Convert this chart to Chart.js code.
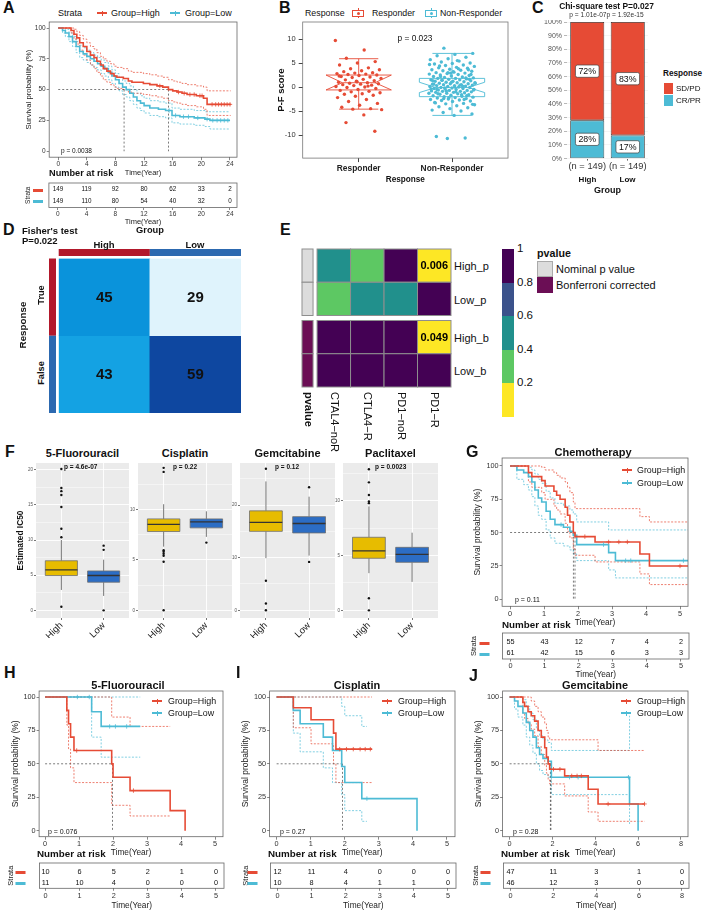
<!DOCTYPE html>
<html>
<head>
<meta charset="utf-8">
<title>Figure</title>
<script src="https://cdn.jsdelivr.net/npm/chart.js@4.4.1/dist/chart.umd.min.js"></script>
<style>
  html, body { margin: 0; padding: 0; background: #fff; }
  body { position: relative; width: 708px; height: 911px; overflow: hidden; font-family: "Liberation Sans", Arial, sans-serif; }
  canvas { position: absolute; }
  .t { position: absolute; white-space: nowrap; line-height: 1; color: #111; }
  .r { position: absolute; box-sizing: border-box; }
</style>
</head>
<body>
<script>
// ---------- A: overall survival, High vs Low ----------
const riskTimesA = [0, 4, 8, 12, 16, 20, 24];
const riskHighA = [149, 119, 92, 80, 62, 33, 2];
const riskLowA = [149, 110, 80, 54, 40, 32, 0];
const timeHighA = [0,1.8,2.2,2.6,3.0,3.5,4.0,4.5,5.0,5.4,5.9,6.3,6.8,7.3,7.8,8.2,9.1,9.8,10.3,11.9,12.8,13.8,14.6,15.4,16.0,16.6,17.3,18.0,19.3,20.3,20.8,24.1];
const survHighA = [100,98,95,92,88,85,81,78,76,73,70,67,65,63,61,60,59,57,56,55,54,53,52,50,49,48,47,46,45,43,38,38];
const upHighA   = [100,100,99,97,94,91,88,85,83,80,77,75,73,71,69,68,67,65,64,63,62,61,60,58,57,56,55,54,53,52,49,49];
const loHighA   = [100,96,91,87,82,78,74,70,67,64,61,58,56,54,52,51,50,48,47,46,45,44,43,41,40,39,38,37,36,34,29,29];
const censHighA = [14.2,16.8,17.6,18.4,19.0,19.8,20.1,21.5,22.0,22.4,22.8,23.2,23.6,24.0];
const timeLowA = [0,0.6,1.0,1.5,2.0,2.5,3.0,3.5,4.0,4.5,5.0,5.5,6.0,6.5,7.0,7.5,8.0,8.5,9.0,9.5,10.0,10.5,11.0,11.5,12.0,12.8,14.0,15.0,15.9,17.0,19.0,20.5,21.2,24.0];
const survLowA = [100,98,96,93,89,85,81,79,77,75,73,71,69,67,64,61,58,55,52,50,47,44,41,39,37,35,34,33,29,28,27,26,25,25];
const upLowA   = [100,100,99,96,93,89,86,84,82,80,78,76,74,72,69,66,63,60,57,55,53,50,47,45,43,41,40,39,35,34,33,32,32,32];
const loLowA   = [100,96,93,89,85,80,76,74,72,70,68,66,63,61,58,55,52,49,46,44,41,38,35,33,31,29,28,27,23,22,21,20,18,18];
const censLowA = [15.5,16.4,17.5,18.2,19.5,20.8,21.6,22.2,22.7,23.2,23.7];
const medianA = [15.4, 9.2];

// ---------- B: P-F score by response ----------
const respNames = ['Responder', 'Non-Responder'];
const respScores = [9.7,7.7,6.0,5.3,5.0,4.6,4.0,3.8,3.6,3.4,3.2,3.0,2.9,2.8,2.7,2.6,2.5,2.4,2.2,2.1,2.0,1.8,1.6,1.5,1.3,1.2,1.0,0.9,0.8,0.7,0.6,0.5,0.4,0.3,0.1,0.0,-0.1,-0.3,-0.5,-0.7,-0.9,-1.0,-1.2,-1.4,-1.5,-1.7,-1.9,-2.2,-2.6,-3.0,-3.4,-3.8,-4.2,-4.5,-4.6,-4.7,-5.8,-7.4,-9.2,1.1,2.3,0.2];
const nonRespScores = [8.1,7.0,6.8,6.5,6.2,5.9,5.7,5.4,5.2,5.0,4.9,4.8,4.6,4.5,4.3,4.1,4.0,3.9,3.7,3.6,3.5,3.4,3.3,3.1,3.0,2.9,2.8,2.7,2.6,2.5,2.4,2.3,2.2,2.1,2.0,1.9,1.8,1.8,1.7,1.6,1.5,1.5,1.4,1.3,1.2,1.2,1.1,1.0,0.9,0.9,0.8,0.7,0.7,0.6,0.5,0.5,0.4,0.3,0.3,0.2,0.1,0.1,0.0,-0.1,-0.1,-0.2,-0.3,-0.3,-0.4,-0.5,-0.5,-0.6,-0.7,-0.7,-0.8,-0.9,-0.9,-1.0,-1.1,-1.1,-1.2,-1.3,-1.3,-1.4,-1.5,-1.6,-1.7,-1.8,-1.9,-2.0,-2.1,-2.2,-2.3,-2.4,-2.5,-2.6,-2.7,-2.8,-2.9,-3.0,-3.2,-3.4,-3.5,-3.7,-3.9,-4.1,-4.3,-4.5,-4.8,-5.0,-5.3,-5.6,-5.9,-10.3,-10.6,-10.7,4.7,3.8,2.2,1.6,1.0,0.6,0.2,-0.2,-0.6,-1.0,-1.4,-1.8,-2.2,-0.4,0.4,1.4,2.6,3.2,-3.3,-2.6,-0.8,0.8,5.5,4.4,3.6,2.9,1.3,-1.6,-2.4,-3.6,0.0,-0.5,1.9,3.0];
const pfLow = [-4.6, -5.9];
const pfQ1 = [-0.6, -2.0];
const pfMed = [0.9, -0.1];
const pfQ3 = [2.5, 1.8];
const pfHigh = [5.9, 7.0];
const pfNotchLo = [-0.6, -1.15];
const pfNotchHi = [2.5, 1.0];

// ---------- C: response rate by group ----------
const chiGroups = ['High', 'Low'];
const chiN = [149, 149];
const crprPct = [28, 17];
const sdpdPct = [72, 83];

// ---------- D: Fisher table ----------
const fisherGroups = ['High', 'Low'];
const fisherTrue = [45, 29];
const fisherFalse = [43, 59];

// ---------- E: SubMap p values ----------
const subRows = ['High_p', 'Low_p', 'High_b', 'Low_b'];
const subCols = ['CTAL4\u2212noR', 'CTLA4\u2212R', 'PD1\u2212noR', 'PD1\u2212R'];
const subP = [
  [0.5, 0.3, 0.9, 0.006],
  [0.3, 0.5, 0.55, 0.9],
  [1, 1, 1, 0.049],
  [1, 1, 1, 1]
];

// ---------- F: estimated IC50 ----------
const drugs = ['5-Fluorouracil', 'Cisplatin', 'Gemcitabine', 'Paclitaxel'];
const drugP = ['p = 4.6e-07', 'p = 0.22', 'p = 0.12', 'p = 0.0023'];
const icGroups = ['High', 'Low'];
// [lower whisker, q1, median, q3, upper whisker]
const icHigh = [[2.9,4.95,5.76,7.05,10.0],[6.3,7.8,8.5,9.05,10.5],[9.9,15.0,16.7,18.9,24.5],[3.4,4.76,5.43,6.68,9.5]];
const icLow = [[2.05,4.0,4.95,5.6,7.2],[7.27,8.16,8.75,9.05,9.8],[10.4,14.7,16.5,17.8,21.6],[2.6,4.39,5.12,5.76,7.1]];
const icOutHigh = [[20.1,17.4,16.95,16.4,14.7,11.6,10.4,0.5],[14.1,13.7,5.95,5.8,5.6,5.4,4.8,0],[26.9,5.6,1.3,0],[12.9,11.7,10.55,9.95,9.8,1.1,0]];
const icOutLow = [[9.2,8.6,0],[6.7],[23.4,9.2],[]];

// ---------- G: chemotherapy ----------
const riskTimes5 = [0, 1, 2, 3, 4, 5];
const riskHighG = [55, 43, 12, 7, 4, 2];
const riskLowG = [61, 42, 15, 6, 3, 3];
const timeHighG = [0,0.54,0.64,0.93,1.03,1.29,1.37,1.47,1.62,1.69,1.76,1.86,1.91,2.5,3.82,4.1,5.25];
const survHighG = [100,95,92,89,85,81,78,75,69,63,58,50,47,43,34,25,25];
const upHighG   = [100,100,100,99,97,95,93,91,88,84,80,73,68,68,62,58,58];
const loHighG   = [100,88,84,80,75,70,67,64,57,51,46,38,33,28,19,11,11];
const censHighG = [2.2, 2.9, 3.2, 3.45, 5.0];
const timeLowG = [0,0.2,0.4,0.54,0.64,0.73,0.83,0.93,1.06,1.18,1.32,1.57,1.76,1.86,1.96,2.9,3.1,5.25];
const survLowG = [100,97,95,92,88,82,76,73,66,60,56,54,51,48,41,35,29,29];
const upLowG   = [100,100,100,99,97,94,90,87,81,76,72,70,67,64,58,52,52,52];
const loLowG   = [100,90,86,82,77,70,63,60,52,46,42,40,37,34,29,22,16,16];
const censLowG = [1.5, 2.75, 3.4, 3.55, 5.1];
const medianG = [1.91, 1.86];

// ---------- H: 5-Fluorouracil ----------
const riskHighH = [10, 6, 5, 2, 1, 0];
const riskLowH = [11, 10, 4, 0, 0, 0];
const timeHighH = [0,0.64,0.69,0.75,0.85,1.96,2.0,2.5,3.68,4.12];
const survHighH = [100,90,80,70,60,50,40,30,15,0];
const upHighH   = [100,100,100,100,100,85,85,78,78,null];
const loHighH   = [100,79,61,47,36,19,19,11,11,null];
const censHighH = [0.93, 2.6];
const timeLowH = [0,1.37,1.65,2.8];
const survLowH = [100,89,78,78];
const upLowH   = [100,100,100,100];
const loLowH   = [100,70,55,55];
const censLowH = [0.95, 1.3, 1.9, 2.07, 2.4];
const medianH = [1.98, null];

// ---------- I: Cisplatin ----------
const riskHighI = [12, 11, 4, 0, 0, 0];
const riskLowI = [10, 8, 4, 1, 1, 0];
const timeHighI = [0,0.49,1.01,1.67,1.74,2.8];
const survHighI = [100,92,83,73,61,61];
const upHighI   = [100,100,100,100,100,100];
const loHighI   = [100,77,65,50,36,36];
const censHighI = [1.85, 2.05, 2.25, 2.45, 2.6, 2.75];
const timeLowI = [0,0.49,0.69,1.37,1.64,1.91,2.0,2.5,2.65,4.12];
const survLowI = [100,90,80,70,60,48,36,24,24,0];
const upLowI   = [100,100,100,100,100,93,86,78,78,null];
const loLowI   = [100,73,59,47,36,27,15,7,7,null];
const censLowI = [2.65];
const medianI = [null, 1.93];

// ---------- J: Gemcitabine ----------
const riskTimesJ = [0, 2, 4, 6, 8];
const riskHighJ = [47, 11, 3, 1, 0];
const riskLowJ = [46, 12, 3, 0, 0];
const timeHighJ = [0,0.62,0.7,0.86,1.01,1.17,1.33,1.48,1.64,1.72,1.8,1.87,2.57,3.67,4.13,6.3];
const survHighJ = [100,96,93,89,86,82,75,70,62,55,50,46,41,31,20,20];
const upHighJ   = [100,100,100,100,97,93,89,85,80,75,70,68,68,68,60,60];
const loHighJ   = [100,88,84,80,76,71,63,57,49,43,38,35,26,14,7,7];
const censHighJ = [2.05, 2.35, 2.9, 3.15, 3.35, 4.6, 6.3];
const timeLowJ = [0,0.23,0.39,0.62,0.78,0.94,1.09,1.25,1.4,1.56,1.79,1.95,5.6,6.0];
const survLowJ = [100,97,93,88,81,75,70,62,57,54,52,40,20,0];
const upLowJ   = [100,100,100,98,93,88,83,76,71,68,66,60,86,null];
const loLowJ   = [100,91,85,79,70,64,58,50,45,42,40,27,5,null];
const censLowJ = [2.8, 3.2, 5.55];
const medianJ = [1.9, 1.93];

// ================= drawing =================
const FONT = '"Liberation Sans", Arial, Helvetica, sans-serif';
const RED = '#E64B35', BLUE = '#4DBBD5';
const ANNO_RED = '#B2182B', ANNO_BLUE = '#2C69B0';
const NOMINAL = '#DCDCDC', BONF = '#6B0E55';
const viridis5 = ['#FDE725', '#5DC863', '#21908C', '#3B528B', '#440154'];
const pColor = v => viridis5[Math.min(4, Math.floor(v / 0.2))];

Chart.defaults.font.family = FONT;
Chart.defaults.color = '#333';
Chart.defaults.animation = false;
Chart.defaults.responsive = false;
Chart.defaults.maintainAspectRatio = false;
Chart.defaults.events = [];
Chart.defaults.plugins.legend.display = false;
Chart.defaults.plugins.tooltip.enabled = false;

function label(s, x, y, o = {}) {
  const d = document.createElement('div');
  d.className = 't';
  d.textContent = s;
  d.style.left = x + 'px';
  d.style.top = y + 'px';
  d.style.fontSize = (o.size || 8) + 'px';
  if (o.bold) d.style.fontWeight = 'bold';
  if (o.color) d.style.color = o.color;
  const ax = o.align === 'c' ? '-50%' : o.align === 'r' ? '-100%' : '0';
  let tr = `translate(${ax},-50%)`;
  if (o.rot) tr = `translate(-50%,-50%) rotate(${o.rot}deg)`;
  if (o.down) { d.style.transformOrigin = '0 0'; tr = 'rotate(90deg) translate(0,-50%)'; }
  d.style.transform = tr;
  document.body.appendChild(d);
}
function box(x, y, w, h, col, border) {
  const d = document.createElement('div');
  d.className = 'r';
  Object.assign(d.style, {left: x + 'px', top: y + 'px', width: w + 'px', height: h + 'px', background: col || 'transparent'});
  if (border) d.style.border = border;
  document.body.appendChild(d);
  return d;
}
function swatch(x, y, col, w = 10) {
  box(x, y - 1, w, 2, col);
  box(x + w / 2 - 0.5, y - 2.5, 1, 5, col);
}
function boxIcon(x, y, col) {
  box(x + 5.5, y - 5, 1, 10, col);
  box(x, y - 3.5, 12, 7, '#fff', '1px solid ' + col);
  const dot = box(x + 4.5, y - 1.5, 3, 3, col);
  dot.style.borderRadius = '50%';
}
function canvasAt(x, y, w, h) {
  const c = document.createElement('canvas');
  c.width = Math.round(w); c.height = Math.round(h);
  c.style.left = x + 'px'; c.style.top = y + 'px';
  document.body.appendChild(c);
  return c;
}
// box = plot area [l, t, r, b] in page px, m = [left, top, right, bottom] room around it
function makeChart(bx, m, cfg) {
  const [l, t, r, b] = bx, [ml, mt, mr, mb] = m;
  const cv = canvasAt(l - ml, t - mt, r - l + ml + mr, b - t + mt + mb);
  const pad = {left: 0, top: mt, right: mr, bottom: 0};
  const scales = cfg.options.scales || {};
  for (const k in scales) {
    const s = scales[k];
    const horiz = k.startsWith('x');
    if (s.display === false) { if (horiz) pad.bottom = mb; else pad.left = ml; continue; }
    s.afterFit = a => {
      if (horiz) a.height = mb; else a.width = ml;
      a.paddingLeft = a.paddingRight = a.paddingTop = a.paddingBottom = 0;
    };
  }
  cfg.options.layout = {padding: pad, autoPadding: false};
  return new Chart(cv, cfg);
}

// ---------- plugins ----------
const frame = {
  id: 'frame',
  beforeDraw(c, _a, o) {
    if (!o || !o.bg) return;
    const a = c.chartArea;
    c.ctx.save(); c.ctx.fillStyle = o.bg; c.ctx.fillRect(a.left, a.top, a.width, a.height); c.ctx.restore();
  },
  afterDatasetsDraw(c, _a, o) {
    if (!o || !o.stroke) return;
    const a = c.chartArea, x = c.ctx;
    x.save(); x.strokeStyle = o.stroke; x.lineWidth = o.width || 0.8;
    x.strokeRect(a.left, a.top, a.width, a.height); x.restore();
  }
};
const countText = {
  id: 'countText',
  afterDatasetsDraw(c, _a, o) {
    if (!o || !o.size) return;
    const x = c.ctx;
    x.save();
    x.font = `${o.bold ? 'bold ' : ''}${o.size}px ${FONT}`;
    x.fillStyle = '#111'; x.textAlign = 'center'; x.textBaseline = 'middle';
    c.data.datasets.forEach((d, i) => {
      if (!d.counts) return;
      c.getDatasetMeta(i).data.forEach((el, j) => {
        const p = el.getCenterPoint();
        x.fillText(String(d.counts[j]), p.x, p.y + 0.5);
      });
    });
    x.restore();
  }
};
// box-and-whisker marks; the items live on chart.data.boxItems (plain objects)
const boxes = {
  id: 'boxes',
  beforeDatasetsDraw(c) {
    const items = c.data.boxItems;
    if (!items) return;
    const {ctx, scales: {x, y}} = c;
    const Y = v => y.getPixelForValue(v);
    items.forEach(b => {
      const cx = x.getPixelForValue(b.x), hw = x.getPixelForValue(b.x + b.w / 2) - cx;
      const L = cx - hw, R = cx + hw;
      ctx.save();
      ctx.lineWidth = b.lw || 0.8;
      ctx.beginPath();
      ctx.moveTo(cx, Y(b.q3)); ctx.lineTo(cx, Y(b.hi));
      ctx.moveTo(cx, Y(b.q1)); ctx.lineTo(cx, Y(b.lo));
      if (b.cap) {
        const cw = hw * b.cap;
        ctx.moveTo(cx - cw, Y(b.hi)); ctx.lineTo(cx + cw, Y(b.hi));
        ctx.moveTo(cx - cw, Y(b.lo)); ctx.lineTo(cx + cw, Y(b.lo));
      }
      ctx.strokeStyle = b.whisker || b.stroke; ctx.stroke();
      ctx.beginPath();
      if (b.notch) {
        const ni = hw * 0.5;
        ctx.moveTo(L, Y(b.q3)); ctx.lineTo(L, Y(b.notch[1])); ctx.lineTo(L + ni, Y(b.med));
        ctx.lineTo(L, Y(b.notch[0])); ctx.lineTo(L, Y(b.q1)); ctx.lineTo(R, Y(b.q1));
        ctx.lineTo(R, Y(b.notch[0])); ctx.lineTo(R - ni, Y(b.med)); ctx.lineTo(R, Y(b.notch[1]));
        ctx.lineTo(R, Y(b.q3)); ctx.closePath();
      } else {
        ctx.rect(L, Y(b.q3), 2 * hw, Y(b.q1) - Y(b.q3));
      }
      if (b.bg) { ctx.fillStyle = b.bg; ctx.fill(); }
      ctx.strokeStyle = b.stroke; ctx.stroke();
      const mi = b.notch ? hw * 0.5 : 0;
      ctx.beginPath(); ctx.moveTo(L + mi, Y(b.med)); ctx.lineTo(R - mi, Y(b.med));
      ctx.lineWidth = b.mlw || ctx.lineWidth; ctx.strokeStyle = b.mcol || b.stroke; ctx.stroke();
      ctx.restore();
    });
  }
};
const pctLabels = {
  id: 'pctLabels',
  afterDatasetsDraw(c, _a, o) {
    if (!o || !o.size) return;
    const x = c.ctx;
    x.save();
    x.font = `${o.size}px ${FONT}`; x.textAlign = 'center'; x.textBaseline = 'middle';
    c.data.datasets.forEach((d, i) => c.getDatasetMeta(i).data.forEach((el, j) => {
      const p = el.getCenterPoint(), s = d.data[j] + '%';
      const w = x.measureText(s).width + 6, h = o.size + 3.5;
      x.fillStyle = '#fff'; x.strokeStyle = '#444'; x.lineWidth = 0.7;
      x.beginPath(); x.roundRect(p.x - w / 2, p.y - h / 2, w, h, 2); x.fill(); x.stroke();
      x.fillStyle = '#111'; x.fillText(s, p.x, p.y + 0.5);
    }));
    x.restore();
  }
};
const fisherAnno = {
  id: 'fisherAnno',
  afterDatasetsDraw(c, _a, o) {
    if (!o || !o.on) return;
    const {ctx, chartArea: a, scales: {x, y}} = c;
    const half = (x.getPixelForValue(1) - x.getPixelForValue(0)) / 2;
    ctx.save();
    fisherGroups.forEach((g, i) => {
      ctx.fillStyle = i ? ANNO_BLUE : ANNO_RED;
      const cx = x.getPixelForValue(i);
      ctx.fillRect(cx - half, a.top - 9.5, 2 * half, 7);
    });
    [[1, 2, ANNO_RED], [0, 1, ANNO_BLUE]].forEach(([v0, v1, col]) => {
      const y0 = y.getPixelForValue(v1), y1 = y.getPixelForValue(v0);
      ctx.fillStyle = col; ctx.fillRect(a.left - 9.7, y0, 7, y1 - y0);
    });
    ctx.restore();
  }
};
const subHeat = {
  id: 'subHeat',
  afterDatasetsDraw(c, _a, o) {
    if (!o || !o.on) return;
    const {ctx, scales: {x, y}} = c;
    const rowTop = [0, 1, 2.15, 3.15];
    const cell = (x0, x1, r, col) => {
      const X0 = x.getPixelForValue(x0), X1 = x.getPixelForValue(x1);
      const Y0 = y.getPixelForValue(rowTop[r]), Y1 = y.getPixelForValue(rowTop[r] + 1);
      ctx.fillStyle = col; ctx.fillRect(X0, Y0, X1 - X0, Y1 - Y0);
      ctx.strokeStyle = '#8F8F8F'; ctx.lineWidth = 1; ctx.strokeRect(X0, Y0, X1 - X0, Y1 - Y0);
      return [(X0 + X1) / 2, (Y0 + Y1) / 2];
    };
    ctx.save();
    subP.forEach((row, r) => {
      cell(0, 0.33, r, r < 2 ? NOMINAL : BONF);
      row.forEach((v, k) => {
        const [cx, cy] = cell(0.45 + k, 1.45 + k, r, pColor(v));
        if (v < 0.05) {
          ctx.fillStyle = '#000'; ctx.font = `bold 11px ${FONT}`;
          ctx.textAlign = 'center'; ctx.textBaseline = 'middle';
          ctx.fillText(v.toFixed(3), cx, cy + 0.5);
        }
      });
    });
    ctx.restore();
  }
};
Chart.register(frame, countText, boxes, pctLabels, fisherAnno, subHeat);

// ---------- Kaplan-Meier panels ----------
function survAt(t, s, time) {
  let v = s[0];
  for (let j = 0; j < t.length; j++) if (t[j] <= time) v = s[j];
  return v;
}
function kmPanel(P) {
  const cols = [RED, BLUE];
  const ds = [];
  P.curves.forEach(([t, s, up, lo, cens], i) => {
    const pts = arr => t.map((tt, j) => ({x: tt, y: arr[j]}));
    const thin = {borderColor: cols[i], borderWidth: 0.7, borderDash: [2, 1.5], stepped: true, pointRadius: 0, order: 3};
    ds.push({...thin, data: pts(up)});
    ds.push({...thin, data: pts(lo)});
    ds.push({data: pts(s), borderColor: cols[i], borderWidth: 1.6, stepped: true, pointRadius: 0, order: 1});
    ds.push({type: 'scatter', data: cens.map(cv => ({x: cv, y: survAt(t, s, cv)})), pointStyle: 'cross',
             pointRadius: 2.2, borderColor: cols[i], borderWidth: 0.8, order: 0});
  });
  const meds = P.med.filter(v => v != null);
  const mline = {borderColor: '#444', borderWidth: 0.7, borderDash: [2, 2], pointRadius: 0, order: 2};
  ds.push({...mline, data: [{x: 0, y: 50}, {x: Math.max(...meds), y: 50}]});
  meds.forEach(v => ds.push({...mline, data: [{x: v, y: 50}, {x: v, y: 0}]}));

  const xAxis = (pad, tl) => ({
    type: 'linear', min: P.x[0], max: P.x[1],
    ticks: {stepSize: P.x[2], includeBounds: false, autoSkip: false, maxRotation: 0, padding: pad, font: {size: P.f.tick}, color: '#333'},
    grid: {drawOnChartArea: false, tickLength: tl, tickColor: '#555', lineWidth: 0.7},
    border: {display: false},
    title: {display: true, text: 'Time(Year)', padding: 0, font: {size: P.f.xt}, color: '#222'}
  });
  makeChart(P.box, P.m, {
    type: 'line',
    data: {datasets: ds},
    options: {
      plugins: {frame: {stroke: '#666', width: 0.8}},
      scales: {
        x: xAxis(0, 3),
        y: {type: 'linear', min: P.y[0], max: P.y[1],
            ticks: {stepSize: 25, includeBounds: false, autoSkip: false, padding: 1, font: {size: P.f.tick}, color: '#333'},
            grid: {drawOnChartArea: false, tickLength: 2.5, tickColor: '#555', lineWidth: 0.7},
            border: {display: false},
            title: {display: true, text: 'Survival probability (%)', padding: 0, font: {size: P.f.yt}, color: '#222'}}
      }
    }
  });
  const rds = P.risk.map((row, i) => ({type: 'scatter', data: row.map((n, j) => ({x: P.rt[j], y: 2 - i})), counts: row, pointRadius: 0}));
  makeChart(P.rbox, P.rm, {
    type: 'scatter',
    data: {datasets: rds},
    options: {
      plugins: {frame: {stroke: '#666', width: 0.8}, countText: {size: P.f.risk}},
      scales: {
        x: xAxis(P.rtp, 2.5),
        y: {type: 'linear', min: P.ry[0], max: P.ry[1],
            ticks: {stepSize: 1, includeBounds: false, autoSkip: false, padding: P.rpad, font: {size: 10},
                    callback: v => (v === 1 || v === 2) ? '\u25AC' : '',
                    color: c => (c.tick && c.tick.value === 2) ? RED : BLUE},
            grid: {display: false, drawTicks: false}, border: {display: false},
            title: {display: true, text: 'Strata', padding: 0, font: {size: P.f.st}, color: '#222'}}
      }
    }
  });
}

const fA = {tick: 6.5, xt: 7.5, yt: 7.8, risk: 6.3, st: 6.5};
const fG = {tick: 7.3, xt: 8.3, yt: 8.5, risk: 7.3, st: 7.5};
kmPanel({box: [49, 22, 237, 157], m: [25.2, 3, 3, 19.8], x: [-1.26, 24.98, 4], y: [-4.9, 104.9], f: fA,
  curves: [[timeHighA, survHighA, upHighA, loHighA, censHighA], [timeLowA, survLowA, upLowA, loLowA, censLowA]], med: medianA,
  rbox: [49, 183, 237, 207], rm: [24.9, 1, 3, 18.5], ry: [0.36, 2.55], rpad: 6, rtp: 0, rt: riskTimesA, risk: [riskHighA, riskLowA]});
kmPanel({box: [502, 458, 688, 606], m: [29.1, 3, 3, 21.7], x: [-0.235, 5.235, 1], y: [-5.3, 106], f: fG,
  curves: [[timeHighG, survHighG, upHighG, loHighG, censHighG], [timeLowG, survLowG, upLowG, loLowG, censLowG]], med: medianG,
  rbox: [502, 633, 688, 659], rm: [33.5, 1, 3, 21], ry: [0.45, 2.8], rpad: 13, rtp: 0.3, rt: riskTimes5, risk: [riskHighG, riskLowG]});
kmPanel({box: [39, 691, 223, 837], m: [28.1, 3, 3, 21.3], x: [-0.176, 5.235, 1], y: [-4.5, 104.5], f: fG,
  curves: [[timeHighH, survHighH, upHighH, loHighH, censHighH], [timeLowH, survLowH, upLowH, loLowH, censLowH]], med: medianH,
  rbox: [39, 863, 223, 888], rm: [33.5, 1, 3, 22.7], ry: [0.45, 2.75], rpad: 14, rtp: 1.3, rt: riskTimes5, risk: [riskHighH, riskLowH]});
kmPanel({box: [270, 691, 455, 837], m: [28.6, 3, 3, 21.3], x: [-0.206, 5.235, 1], y: [-4.5, 104.5], f: fG,
  curves: [[timeHighI, survHighI, upHighI, loHighI, censHighI], [timeLowI, survLowI, upLowI, loLowI, censLowI]], med: medianI,
  rbox: [270, 863, 455, 888], rm: [29.5, 1, 3, 22.7], ry: [0.45, 2.75], rpad: 13, rtp: 1.3, rt: riskTimes5, risk: [riskHighI, riskLowI]});
kmPanel({box: [503, 691, 688, 837], m: [28.6, 3, 3, 21.3], x: [-0.327, 8.33, 2], y: [-4.5, 104.5], f: fG,
  curves: [[timeHighJ, survHighJ, upHighJ, loHighJ, censHighJ], [timeLowJ, survLowJ, upLowJ, loLowJ, censLowJ]], med: medianJ,
  rbox: [503, 863, 688, 888], rm: [32.5, 1, 3, 22.7], ry: [0.45, 2.75], rpad: 13, rtp: 1.3, rt: riskTimesJ, risk: [riskHighJ, riskLowJ]});

// ---------- B ----------
const jitter = i => (((i * 0.6180339887) % 1) - 0.5) * 0.5;
makeChart([303, 22, 508, 158], [26.7, 2, 2, 26.9], {
  type: 'scatter',
  data: {
    datasets: [
      {data: respScores.map((v, i) => ({x: 1 + jitter(i), y: v})), backgroundColor: RED, pointRadius: 1.7, borderWidth: 0},
      {data: nonRespScores.map((v, i) => ({x: 2 + jitter(i + 7), y: v})), backgroundColor: BLUE, pointRadius: 1.7, borderWidth: 0}
    ],
    boxItems: respNames.map((n, i) => ({x: i + 1, w: 0.7, lo: pfLow[i], q1: pfQ1[i], med: pfMed[i], q3: pfQ3[i], hi: pfHigh[i],
      notch: [pfNotchLo[i], pfNotchHi[i]], stroke: i ? BLUE : RED, cap: 0.6, lw: 0.9}))
  },
  options: {
    plugins: {frame: {stroke: '#777', width: 0.8}},
    scales: {
      x: {type: 'linear', min: 0.4, max: 2.6,
          ticks: {stepSize: 1, includeBounds: false, autoSkip: false, maxRotation: 0, callback: v => respNames[v - 1],
                  font: {size: 8.4, weight: 'bold'}, color: '#222', padding: 2},
          grid: {drawOnChartArea: false, tickLength: 4, tickColor: '#444'}, border: {display: false},
          title: {display: true, text: 'Response', font: {size: 8.2, weight: 'bold'}, padding: 0, color: '#111'}},
      y: {type: 'linear', min: -14.79, max: 13.54,
          ticks: {stepSize: 5, includeBounds: false, autoSkip: false, font: {size: 7.5}, color: '#333', padding: 3},
          grid: {drawOnChartArea: false, tickLength: 4, tickColor: '#444'}, border: {display: false},
          title: {display: true, text: 'P-F score', font: {size: 9.5, weight: 'bold'}, padding: 0, color: '#111'}}
    }
  }
});

// ---------- C ----------
makeChart([567, 22, 648, 159], [27, 2, 2, 37.4], {
  type: 'bar',
  data: {labels: chiGroups, datasets: [
    {data: crprPct, backgroundColor: BLUE, borderColor: '#222', borderWidth: 0.8, borderSkipped: false, barPercentage: 0.84, categoryPercentage: 1},
    {data: sdpdPct, backgroundColor: RED, borderColor: '#222', borderWidth: 0.8, borderSkipped: false, barPercentage: 0.84, categoryPercentage: 1}
  ]},
  options: {
    plugins: {pctLabels: {size: 8.8}},
    scales: {
      x: {stacked: true,
          ticks: {callback: (v, i) => `(n = ${chiN[i]})`, font: {size: 9.3}, padding: 0, color: '#333',
                  minRotation: 0, maxRotation: 0, autoSkip: false},
          grid: {drawOnChartArea: false, offset: false, tickLength: 2, tickColor: '#666'}, border: {display: false},
          title: {display: true, text: 'Group', font: {size: 9, weight: 'bold'}, padding: 0, color: '#111'}},
      y: {stacked: true, min: 0, max: 100,
          ticks: {stepSize: 10, callback: v => v + '%', font: {size: 7}, color: '#555', padding: 2},
          grid: {color: '#EDEDED', lineWidth: 0.6, tickLength: 3, tickColor: '#888'}, border: {display: false}}
    }
  }
});

// ---------- D ----------
makeChart([58.7, 258.5, 241, 413], [9.7, 9.5, 0, 0], {
  type: 'bar',
  data: {labels: fisherGroups, datasets: [
    {data: fisherTrue.map(() => [1, 2]), counts: fisherTrue, backgroundColor: ['#0A93DB', '#DFF3FC'],
     grouped: false, barPercentage: 1, categoryPercentage: 1, borderWidth: 0},
    {data: fisherFalse.map(() => [0, 1]), counts: fisherFalse, backgroundColor: ['#14A2E3', '#0E47A0'],
     grouped: false, barPercentage: 1, categoryPercentage: 1, borderWidth: 0}
  ]},
  options: {
    plugins: {fisherAnno: {on: true}, countText: {size: 15, bold: true}},
    scales: {x: {display: false}, y: {display: false, min: 0, max: 2}}
  }
});

// ---------- E ----------
makeChart([302, 249, 451, 387], [1, 1, 1, 1], {
  type: 'scatter',
  data: {datasets: []},
  options: {
    plugins: {subHeat: {on: true}},
    scales: {x: {display: false, type: 'linear', min: 0, max: 4.45},
             y: {display: false, type: 'linear', min: 0, max: 4.15, reverse: true}}
  }
});

// ---------- F ----------
const icLeft = [36, 138, 240, 343], icRight = [129, 232, 335, 438];
const icAxis = [[-1.09, 20.95, 5], [-0.76, 14.58, 5], [-1.47, 28.0, 10], [-0.7, 13.47, 5]];
drugs.forEach((name, k) => {
  const step = icAxis[k][2];
  const major = v => Math.abs(v / step - Math.round(v / step)) < 1e-6;
  const stats = (s, x, bg) => ({x, w: 0.76, lo: s[0], q1: s[1], med: s[2], q3: s[3], hi: s[4], bg,
                                stroke: '#6E6E6E', whisker: '#555', mcol: '#333', mlw: 1.3, lw: 0.8});
  makeChart([icLeft[k], 463, icRight[k], 618], [k === 0 ? 20 : 8, 2, 1, 20], {
    type: 'scatter',
    data: {
      datasets: [
        {data: icOutHigh[k].map(v => ({x: 1, y: v})), backgroundColor: '#111', pointRadius: 1.2, borderWidth: 0},
        {data: icOutLow[k].map(v => ({x: 2, y: v})), backgroundColor: '#111', pointRadius: 1.2, borderWidth: 0}
      ],
      boxItems: [stats(icHigh[k], 1, '#E7BC00'), stats(icLow[k], 2, '#2C6DC4')]
    },
    options: {
      plugins: {frame: {bg: '#EBEBEB'}},
      scales: {
        x: {type: 'linear', min: 0.4, max: 2.6,
            ticks: {stepSize: 1, includeBounds: false, autoSkip: false, minRotation: 45, maxRotation: 45,
                    callback: v => icGroups[v - 1], font: {size: 9.5}, color: '#222', padding: 0},
            grid: {color: '#fff', lineWidth: 0.9, tickLength: 2, tickColor: '#666'}, border: {display: false}},
        y: {type: 'linear', min: icAxis[k][0], max: icAxis[k][1],
            ticks: {stepSize: step / 2, includeBounds: false, autoSkip: false, font: {size: 4.5}, color: '#555', padding: 1,
                    callback: v => major(v) ? String(v) : ''},
            grid: {color: '#fff', lineWidth: c => (c.tick && major(c.tick.value)) ? 0.9 : 0.45, tickLength: 2,
                   tickColor: c => (c.tick && major(c.tick.value)) ? '#666' : 'rgba(0,0,0,0)'},
            border: {display: false},
            title: {display: k === 0, text: 'Estimated IC50', font: {size: 8.4, weight: 'bold'}, padding: 0, color: '#111'}}
      }
    }
  });
});

// ---------- text and legends ----------
const big = {size: 16, bold: true};
label('A', 3, 8, big); label('B', 279, 8, big); label('C', 532, 8, big);
label('D', 3, 230, big); label('E', 280, 230, big); label('F', 5, 452, big);
label('G', 466, 452, big); label('H', 4, 673, big); label('I', 236, 673, big); label('J', 469, 676, big);

// A
label('Strata', 58, 13, {size: 9});
swatch(97, 13, RED); label('Group=High', 111, 13, {size: 9});
swatch(170, 13, BLUE); label('Group=Low', 185, 13, {size: 9});
label('p = 0.0038', 61, 151, {size: 6.5});
label('Number at risk', 49, 174, {size: 9.2, bold: true});

// B
label('Response', 305, 13, {size: 8.8});
boxIcon(352, 13, RED); label('Responder', 372, 13, {size: 8.8});
boxIcon(425, 13, BLUE); label('Non-Responder', 440, 13, {size: 8.8});
label('p = 0.023', 415, 38, {size: 8.3, align: 'c'});

// C
label('Chi-square test P=0.027', 606.5, 6, {size: 8.4, bold: true, align: 'c'});
label('p = 1.01e-07p = 1.92e-15', 606.5, 14.5, {size: 6.6, align: 'c', color: '#333'});
label('High', 587.5, 180, {size: 8, bold: true, align: 'c'});
label('Low', 627.5, 180, {size: 8, bold: true, align: 'c'});
label('Response', 663, 74, {size: 8.2, bold: true});
box(664, 83, 9, 11, RED); box(664, 95, 9, 11, BLUE);
label('SD/PD', 676, 89, {size: 8}); label('CR/PR', 676, 100.5, {size: 8});

// D
label("Fisher's test", 22, 231, {size: 9.5, bold: true});
label('P=0.022', 22, 241, {size: 9.5, bold: true});
label('Group', 150, 231, {size: 9.3, bold: true, align: 'c'});
label('High', 104, 244.5, {size: 9.5, bold: true, align: 'c'});
label('Low', 195, 244.5, {size: 9.5, bold: true, align: 'c'});
label('True', 42, 295, {size: 9.2, bold: true, rot: -90});
label('False', 42, 373, {size: 9.2, bold: true, rot: -90});
label('Response', 23, 325, {size: 9.8, bold: true, rot: -90});

// E
[266, 299.5, 337.5, 370.5].forEach((yy, r) => label(subRows[r], 454, yy, {size: 11}));
label('pvalue', 307.5, 392, {size: 11, bold: true, down: true});
subCols.forEach((s, k) => label(s, 333.8 + 33.48 * k, 392, {size: 11, down: true}));
viridis5.slice().reverse().forEach((col, i) => box(502, 249 + 33.6 * i, 11.5, 33.6, col));
['1', '0.8', '0.6', '0.4', '0.2'].forEach((s, i) => label(s, 517, 249 + 33.6 * i, {size: 11.5}));
label('pvalue', 537, 253, {size: 10.7, bold: true});
box(536.5, 261, 16, 16, NOMINAL, '1px solid #aaa'); label('Nominal p value', 556, 269, {size: 11});
box(536.5, 277, 16, 16, BONF); label('Bonferroni corrected', 556, 285, {size: 11});

// F
drugs.forEach((n, k) => label(n, (icLeft[k] + icRight[k]) / 2, 453, {size: 11, bold: true, align: 'c'}));
[64, 173, 275, 375].forEach((xx, k) => label(drugP[k], xx, 466.5, {size: 6.5, bold: true}));

// G
label('Chemotherapy', 593, 452, {size: 11, bold: true, align: 'c'});
swatch(622, 470, RED); label('Group=High', 637, 470, {size: 8.9});
swatch(622, 482.5, BLUE); label('Group=Low', 637, 482.5, {size: 8.9});
label('p = 0.11', 515, 599, {size: 7});
label('Number at risk', 502, 625, {size: 9.8, bold: true});

// H, I, J
[[128, '5-Fluorouracil', 152, 'p = 0.076', 48, 37], [357, 'Cisplatin', 382, 'p = 0.27', 280, 268],
 [595, 'Gemcitabine', 621, 'p = 0.28', 513, 501]].forEach(([tx, title, lx, p, px, nx]) => {
  label(title, tx, 684.5, {size: 11, bold: true, align: 'c'});
  swatch(lx, 701, RED); label('Group=High', lx + 16, 701, {size: 8.9});
  swatch(lx, 713, BLUE); label('Group=Low', lx + 16, 713, {size: 8.9});
  label(p, px, 831, {size: 7});
  label('Number at risk', nx, 854, {size: 9.8, bold: true});
});
</script>
</body>
</html>
